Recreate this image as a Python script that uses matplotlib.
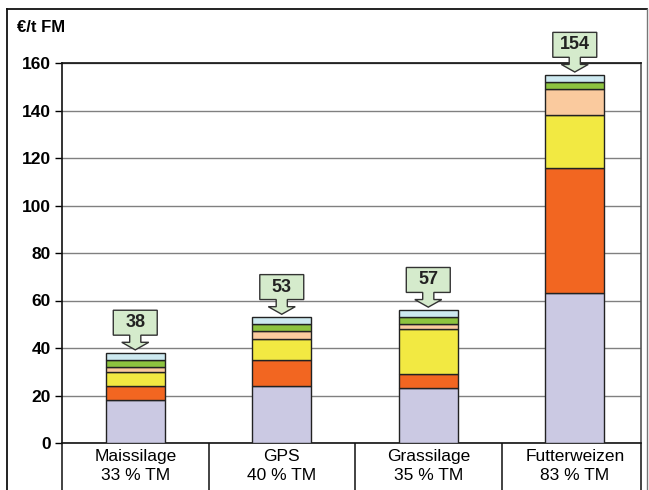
import numpy as np
import matplotlib
matplotlib.use("Agg")
import matplotlib.pyplot as plt
from matplotlib.patches import Polygon
from matplotlib.lines import Line2D

plt.rcParams['font.family'] = ['Liberation Sans', 'DejaVu Sans']

# data
categories = ["Maissilage\n33 % TM", "GPS\n40 % TM", "Grassilage\n35 % TM", "Futterweizen\n83 % TM"]
seg1 = [18, 24, 23, 63]
seg2 = [6, 11, 6, 53]
seg3 = [6, 9, 19, 22]
seg4 = [2, 3, 2, 11]
seg5 = [3, 3, 3, 3]
seg6 = [3, 3, 3, 3]
totals_label = [38, 53, 57, 154]

colors = ['#CBC9E3', '#F26621', '#F2E942', '#FACA9E', '#8DC33F', '#CDE9F0']

W, H = 649, 490
fig = plt.figure(figsize=(W / 100, H / 100), dpi=100)
ax = fig.add_axes([62 / W, 1 - 443 / H, (641 - 62) / W, (443 - 63) / H])

x = np.arange(len(categories))
bottom = np.zeros(len(categories))
for vals, c in zip([seg1, seg2, seg3, seg4, seg5, seg6], colors):
    ax.bar(x, vals, width=0.4, bottom=bottom, color=c, edgecolor='#222222',
           linewidth=1.0, zorder=3)
    bottom += np.array(vals)

ax.set_ylim(0, 160)
ax.set_xlim(-0.5, 3.452)
ax.set_yticks(np.arange(0, 161, 20))
ax.yaxis.grid(True, color='#808080', linewidth=1.0, zorder=0)
ax.set_axisbelow(True)
ax.tick_params(axis='y', length=5, width=1, pad=3, labelsize=12.5)
for lab in ax.get_yticklabels():
    lab.set_fontweight('bold')

ax.set_xticks(x)
ax.set_xticklabels(categories, fontsize=12.5, linespacing=1.38)
ax.tick_params(axis='x', which='major', length=0, pad=4)
ax.set_xticks([-0.5, 0.5, 1.5, 2.5, 3.452], minor=True)
ax.tick_params(axis='x', which='minor', length=40, width=1.2, color='#222222')

for s in ['left', 'top', 'bottom']:
    ax.spines[s].set_color('#111111')
    ax.spines[s].set_linewidth(1.2)
ax.spines['right'].set_color('#555555')
ax.spines['right'].set_linewidth(1.2)

# callouts
for xi, top, lab in zip(x, bottom, totals_label):
    tip = top + 1.2
    hb = tip + 3.2
    bb = hb + 3.0
    bt = bb + 10.5
    bw, sw, hw = 0.15, 0.038, 0.092
    pts = [(xi - bw, bt), (xi + bw, bt), (xi + bw, bb), (xi + sw, bb), (xi + sw, hb),
           (xi + hw, hb), (xi, tip), (xi - hw, hb), (xi - sw, hb), (xi - sw, bb),
           (xi - bw, bb)]
    ax.add_patch(Polygon(pts, closed=True, facecolor='#D5EBCC', edgecolor='#333333',
                         linewidth=1.0, zorder=5, clip_on=False))
    ax.text(xi, (bb + bt) / 2, str(lab), ha='center', va='center', fontsize=13,
            fontweight='bold', color='#222222', zorder=6, clip_on=False)

fig.text(17 / W, 1 - 28 / H, "€/t FM", ha='left', va='center', fontsize=12,
         fontweight='bold')

# outer frame
fig.add_artist(Line2D([7 / W, 7 / W], [0, 1 - 9.5 / H], transform=fig.transFigure,
                      color='#111111', linewidth=1.3))
fig.add_artist(Line2D([7 / W, 647 / W], [1 - 9.5 / H, 1 - 9.5 / H], transform=fig.transFigure,
                      color='#111111', linewidth=1.3))
fig.add_artist(Line2D([647 / W, 647 / W], [0, 1 - 9.5 / H], transform=fig.transFigure,
                      color='#777777', linewidth=1.0))

fig.savefig("out.png", dpi=100)
